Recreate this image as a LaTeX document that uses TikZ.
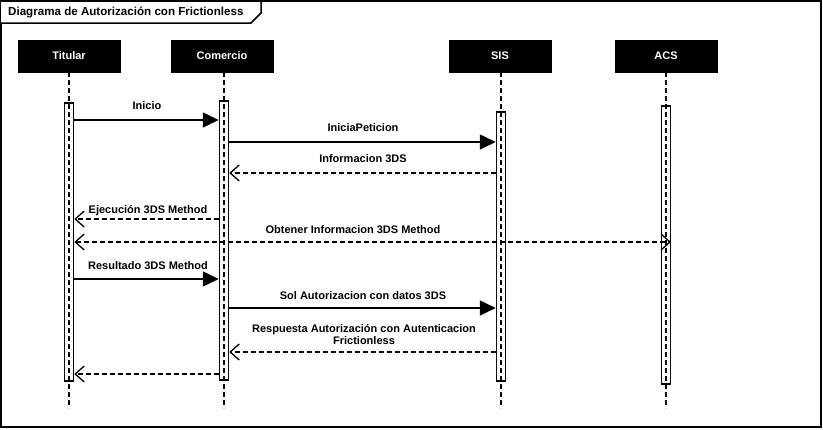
\documentclass[tikz,border=0pt]{standalone}
\usepackage{fontspec}
\setmainfont{Liberation Sans}
\usetikzlibrary{arrows.meta}
\begin{document}
\begin{tikzpicture}[x=1pt,y=-1pt,
  font=\bfseries\fontsize{11}{12}\selectfont,
  hdr/.style={draw=black,fill=black,text=white,minimum width=102pt,minimum height=32pt,inner sep=0pt},
  act/.style={draw=black,line width=1.5pt,fill=white,minimum width=9pt,inner sep=0pt,anchor=north},
  life/.style={line width=1.5pt,dash pattern=on 5pt off 3pt},
  sync/.style={line width=1.6pt,-{Triangle[length=16pt,width=15pt]}},
  ret/.style={line width=1.5pt,dash pattern=on 5pt off 3pt,-{Straight Barb[length=9pt,width=16pt,line width=1.3pt]}},
  lbl/.style={inner sep=0pt,align=center,font=\bfseries\fontsize{11}{12}\selectfont}]
\useasboundingbox (0,0) rectangle (823,429);
\fill[white] (0,0) rectangle (823,429);
% frame
\draw[line width=2pt] (1,1) rectangle (821,427);
\draw[line width=1.5pt,fill=white] (1,1) -- (261,1) -- (261,13) -- (251,23) -- (1,23);
\node[anchor=west,inner sep=0pt,font=\bfseries\fontsize{11.6}{12}\selectfont] (title) at (8,12) {Diagrama de Autorización con Frictionless};
% headers
\node[hdr] (tit) at (69,56) {Titular};
\node[hdr] (com) at (222,56) {Comercio};
\node[hdr] (sis) at (500,56) {SIS};
\node[hdr] (acs) at (666,56) {ACS};
% lifeline ends
\coordinate (titend) at (69,408);
\coordinate (comend) at (224,408);
\coordinate (sisend) at (501,408);
\coordinate (acsend) at (666,408);
% activations
\node[act,minimum height=278pt] (a1) at (69,102) {};
\node[act,minimum height=279pt] (a2) at (224,100) {};
\node[act,minimum height=269pt] (a3) at (501,111) {};
\node[act,minimum height=278pt] (a4) at (666,105) {};
% lifelines
\draw[life] (69,72) -- (titend);
\draw[life] (224,72) -- (comend);
\draw[life] (501,72) -- (sisend);
\draw[life] (666,72) -- (acsend);
% messages
\draw[sync] (a1.east |- 0,120) -- (a2.west |- 0,120);
\node[lbl] (m1) at (147,106) {Inicio};
\draw[sync] (a2.east |- 0,142) -- (a3.west |- 0,142);
\node[lbl] (m2) at (363,128) {IniciaPeticion};
\draw[ret] (a3.west |- 0,173) -- (a2.east |- 0,173);
\node[lbl] (m3) at (363,159) {Informacion 3DS};
\draw[ret] (a2.west |- 0,219) -- (a1.east |- 0,219);
\node[lbl] (m4) at (148,211) {Ejecución 3DS Method};
\draw[ret,{Straight Barb[length=9pt,width=16pt,line width=1.3pt]}-{Straight Barb[length=9pt,width=16pt,line width=1.3pt]}] (a1.east |- 0,242) -- (671,242);
\node[lbl] (m5) at (353,230) {Obtener Informacion 3DS Method};
\draw[sync] (a1.east |- 0,279) -- (a2.west |- 0,279);
\node[lbl] (m6) at (148,266) {Resultado 3DS Method};
\draw[sync] (a2.east |- 0,308) -- (a3.west |- 0,308);
\node[lbl] (m7) at (363,296) {Sol Autorizacion con datos 3DS};
\draw[ret] (a3.west |- 0,352) -- (a2.east |- 0,352);
\node[lbl] (m8) at (364,335) {Respuesta Autorización con Autenticacion\\Frictionless};
\draw[ret] (a2.west |- 0,374) -- (a1.east |- 0,374);
\end{tikzpicture}
\end{document}
